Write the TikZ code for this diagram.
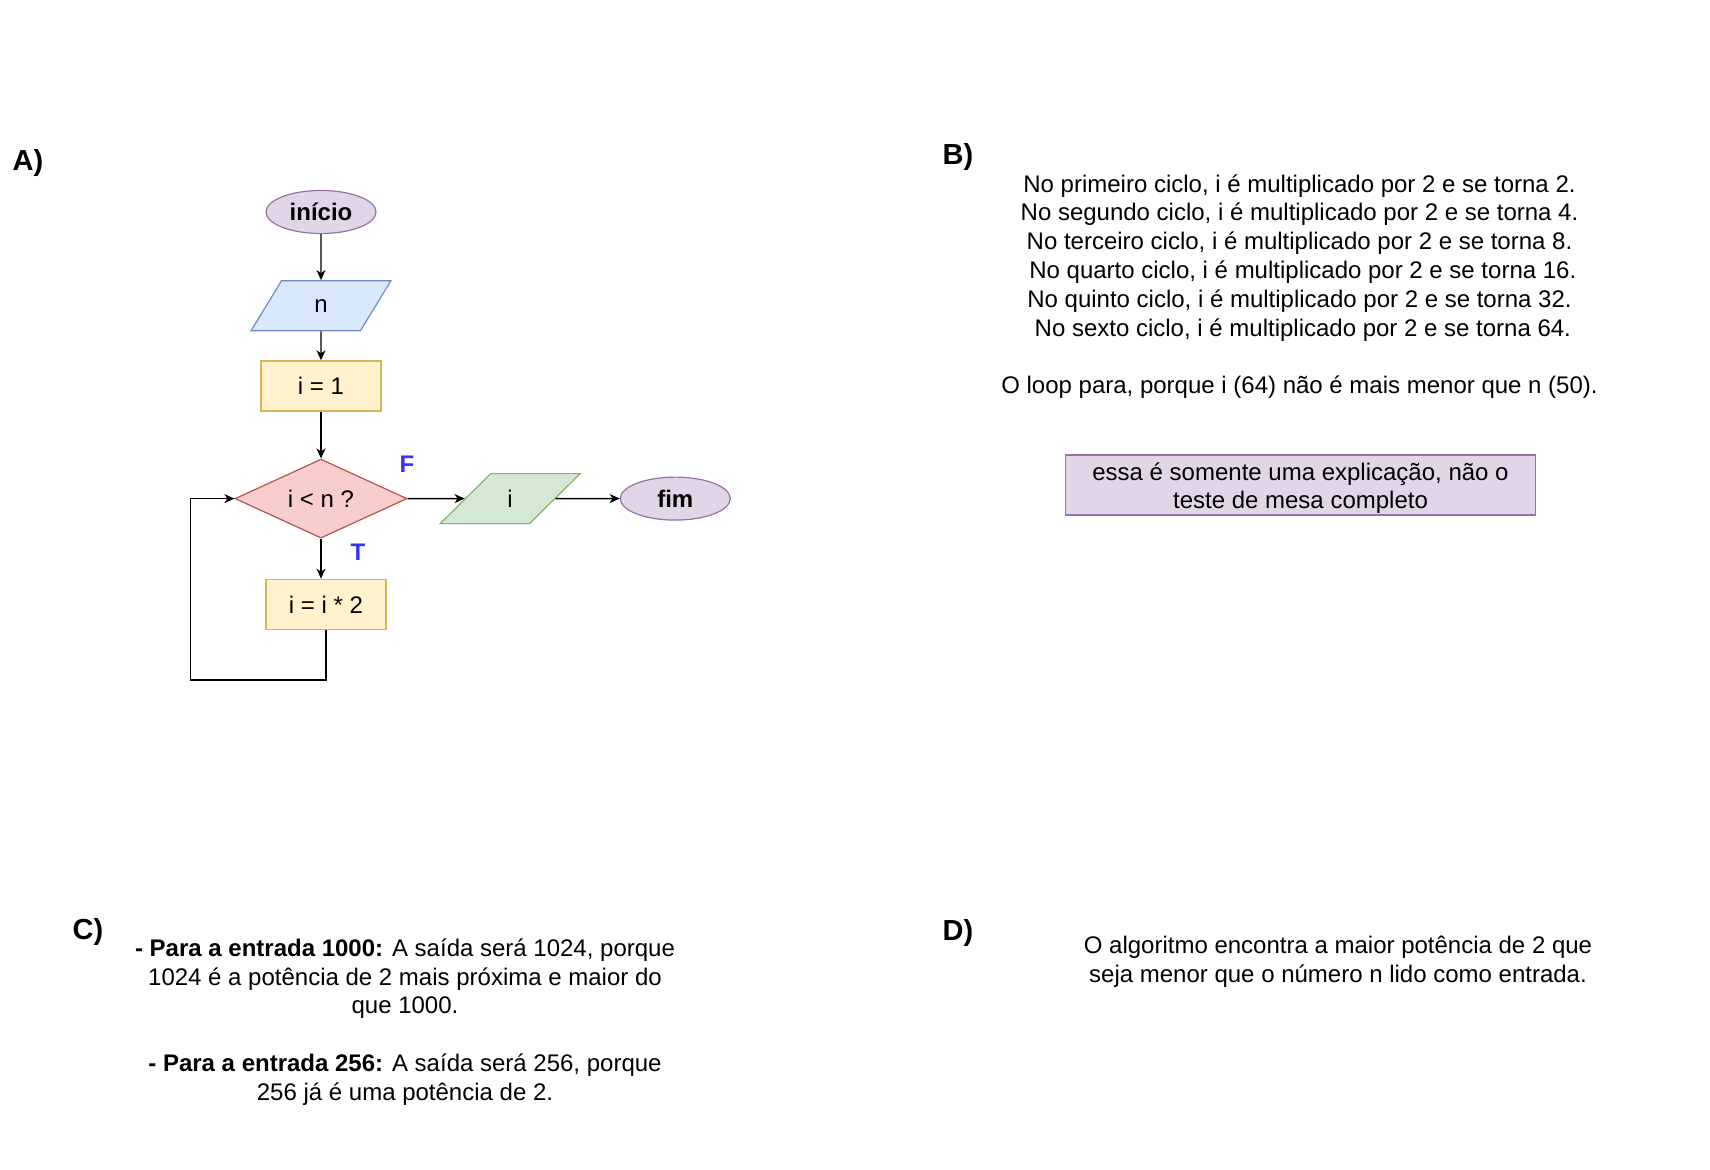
\documentclass[tikz,border=0pt]{standalone}
\usepackage{fontspec}
\setmainfont{Liberation Sans}
\usetikzlibrary{arrows.meta}
\usetikzlibrary{positioning}
\usetikzlibrary{shapes.geometric}
\definecolor{termfill}{HTML}{E1D5E7}
\definecolor{termline}{HTML}{9673A6}
\definecolor{iofill}{HTML}{DAE8FC}
\definecolor{ioline}{HTML}{6C8EBF}
\definecolor{outfill}{HTML}{D5E8D4}
\definecolor{outline}{HTML}{82B366}
\definecolor{procfill}{HTML}{FFF2CC}
\definecolor{procline}{HTML}{D6B656}
\definecolor{decfill}{HTML}{F8CECC}
\definecolor{decline}{HTML}{B85450}
\definecolor{flagblue}{HTML}{3333FF}
\tikzset {
  flow path/.style = {
    draw = black,
    line width = 0.7pt
  },
  % path style with an arrow at its end
  arr/.style = {
    flow path,
    -{Stealth[length=5pt, width=4.5pt, inset=1.5pt]}
  }
}
\tikzset {
  flow node/.style = {
    line width = 0.6pt,
    inner sep = 0,
    font = \fontsize{12}{14.4}\selectfont
  },
  % start and end
  terminal/.style = {
    flow node,
    ellipse,
    draw = termline,
    fill = termfill,
    minimum width = 55pt,
    minimum height = 21.5pt,
    font = \fontsize{12}{14.4}\selectfont\bfseries
  },
  % input / output
  io/.style = {
    flow node,
    trapezium,
    trapezium left angle = 68.2,
    trapezium right angle = 111.8,
    trapezium stretches = true,
    minimum width = 70pt,
    minimum height = 25pt
  },
  % assignment
  process/.style = {
    flow node,
    rectangle,
    draw = procline,
    fill = procfill,
    minimum width = 60pt,
    minimum height = 25pt
  },
  % test
  decision/.style = {
    flow node,
    diamond,
    aspect = 2.2,
    draw = decline,
    fill = decfill,
    minimum width = 86pt,
    minimum height = 39.5pt
  },
  % branch letters
  flag/.style = {
    inner sep = 0,
    text = flagblue,
    font = \fontsize{12}{14.4}\selectfont\bfseries
  },
  % part letters
  part/.style = {
    inner sep = 0,
    font = \fontsize{14.5}{17}\selectfont\bfseries
  },
  % answer text
  note/.style = {
    inner sep = 0,
    align = center,
    font = \fontsize{12}{14.4}\selectfont
  }
}

\begin{document}
\begin{tikzpicture}[x = 0.5pt, y = -0.5pt]
    \useasboundingbox (0,0) rectangle (1710,1170);

    % A) flowchart
    \node[part] (part-a) at (28,163) {A)};
    \node[terminal] (inicio) at (321,212) {início};
    \node[io, draw = ioline, fill = iofill] (read-n) [below=23pt of inicio] {n};
    \node[process] (init) [below=14.5pt of read-n] {i = 1};
    \node[decision] (test) [below=23.5pt of init] {i < n ?};
    \node[process] (double) [below=20pt of test, xshift=2.5pt] {i = i * 2};
    \node[io, draw = outline, fill = outfill] (write-i) [right=28.5pt of test] {i};
    \node[terminal] (fim) [right=32pt of write-i] {fim};
    \node[flag] (false) at (407,464) {F};
    \node[flag] (true) at (358,552) {T};
    \coordinate [below=25pt of double.south] (turn);
    \coordinate [left=22pt of test.west] (back);

    \draw[arr] (inicio) -- (read-n);
    \draw[arr] (read-n) -- (init);
    \draw[arr] (init) -- (test);
    \draw[arr] (test.south) -- (test.south |- double.north);
    \draw[arr] (test) -- (write-i);
    \draw[arr] (write-i) -- (fim);
    \draw[arr] (double.south) -- (turn) -| (back) -- (test.west);

    % B) trace
    \node[part] (part-b) at (958,157) {B)};
    \node[note] (trace) at (1299.5,286.5) {No primeiro ciclo, i é multiplicado por 2 e se torna 2.\\
      No segundo ciclo, i é multiplicado por 2 e se torna 4.\\
      No terceiro ciclo, i é multiplicado por 2 e se torna 8.\\
      \ No quarto ciclo, i é multiplicado por 2 e se torna 16.\\
      No quinto ciclo, i é multiplicado por 2 e se torna 32.\\
      \ No sexto ciclo, i é multiplicado por 2 e se torna 64.\\[14.4pt]
      O loop para, porque i (64) não é mais menor que n (50).};
    \node[note, draw = termline, fill = termfill, line width = 0.6pt,
      minimum width = 235pt, minimum height = 30pt] (remark) at (1300.5,485)
      {\rule{0pt}{12.5pt}essa é somente uma explicação, não o\\teste de mesa completo\rule[-3pt]{0pt}{0pt}};

    % C) outputs
    \node[part] (part-c) at (88,932) {C)};
    \node[note] (outputs) at (405,1022) {\textbf{- Para a entrada 1000:} A saída será 1024, porque\\
      1024 é a potência de 2 mais próxima e maior do\\
      que 1000.\\[14.4pt]
      \textbf{- Para a entrada 256:} A saída será 256, porque\\
      256 já é uma potência de 2.};

    % D) purpose
    \node[part] (part-d) at (958,933) {D)};
    \node[note] (purpose) at (1338,962) {O algoritmo encontra a maior potência de 2 que\\
      seja menor que o número n lido como entrada.};
\end{tikzpicture}
\end{document}
